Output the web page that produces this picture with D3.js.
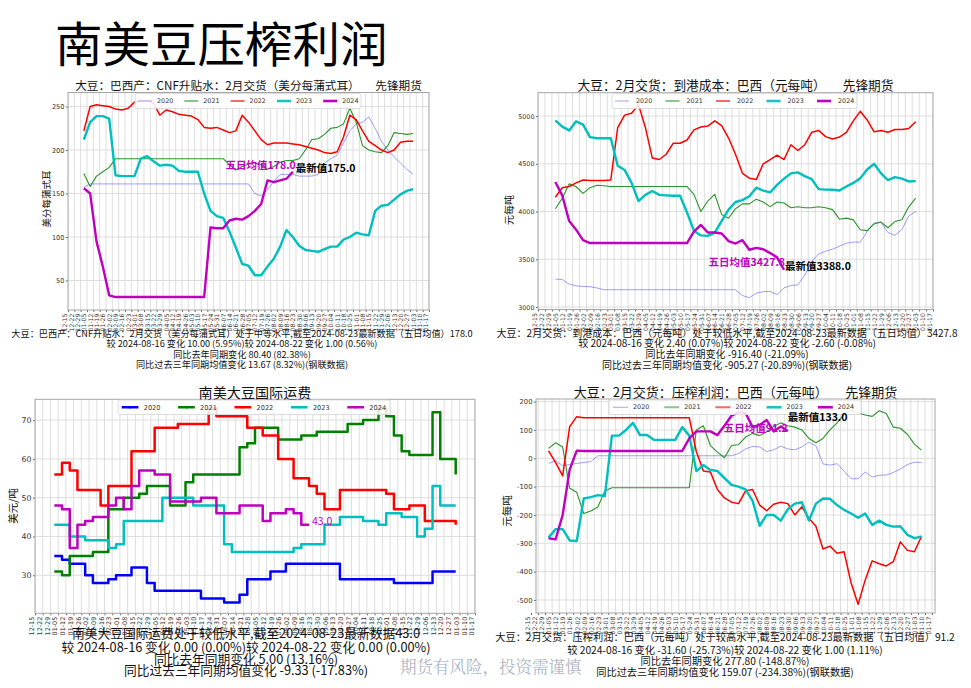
<!DOCTYPE html>
<html><head><meta charset="utf-8">
<script src="https://cdn.jsdelivr.net/npm/d3@7/dist/d3.min.js"></script>
<style>
body{margin:0;background:#fff;}
svg{display:block;font-family:"DejaVu Sans","Noto Sans CJK SC",sans-serif;}
.cjk{font-family:"Noto Sans CJK SC",sans-serif;}
</style></head><body>
<svg id="chart" width="971" height="688"></svg>
<script>
// ---------------- DATA ----------------
const weekLabels = ["12-15","12-22","12-29","01-05","01-12","01-19","01-26","02-02","02-09","02-16","02-23","03-01","03-08","03-15","03-22","03-29","04-05","04-12","04-19","04-26","05-03","05-10","05-17","05-24","05-31","06-07","06-14","06-21","06-28","07-05","07-12","07-19","07-26","08-02","08-09","08-16","08-23","08-30","09-06","09-13","09-20","09-27","10-04","10-11","10-18","10-25","11-01","11-08","11-15","11-22","11-29","12-06","12-13","12-20","12-27","01-03","01-10","01-17"];
const yearNames = ["2020","2021","2022","2023","2024"];
const FIRST_WEEK = 2.5; // first weekly observation sits between 12-29 and 01-05

// 1) CNF premium, Brazil, Feb delivery (US cents / bushel), weekly
const cnf2020 = [157,161,161,161,161,161,161,161,161,161,161,161,161,161,161,161,161,161,161,161,161,161,161,161,161,161,161,150,147,154,164,172,172,172,170,170,170,172,185,190,194,208,222,230,232,238,225,210,200,192,185,178,172];
const cnf2021 = [173,158,170,175,180,190,190,190,190,190,190,190,190,190,190,190,190,190,190,190,190,190,190,183,177,181,184,185,183,178,181,186,188,188,190,200,212,213,218,225,226,230,248,232,205,200,198,197,205,220,219,218,219];
const cnf2022 = [222,250,252,251,250,247,246,248,255,257,257,254,240,246,244,241,240,239,235,226,225,226,223,220,222,240,232,222,212,206,208,208,208,207,206,204,202,200,197,196,198,215,240,235,222,210,205,200,197,200,209,210,210];
const cnf2023 = [212,232,239,239,236,171,170,170,170,190,193,187,182,183,182,176,175,175,175,150,130,124,122,106,88,69,67,56,56,66,75,89,108,100,90,85,84,83,86,89,89,97,100,105,103,102,130,136,137,143,149,153,155];
const cnf2024 = [156,150,95,66,33,31,31,31,31,31,31,31,31,31,31,31,31,31,31,31,111,110,110,119,121,120,124,130,138,165,163,165,167,175];
const cnfTicks = [50,100,150,200,250];

// 2) Landed cost, Brazil, Feb delivery (yuan / t)
const cost2020 = [3293,3288,3240,3222,3215,3213,3200,3181,3181,3181,3181,3181,3181,3181,3181,3181,3181,3181,3181,3181,3181,3181,3181,3181,3181,3181,3181,3120,3098,3145,3160,3163,3130,3200,3225,3232,3335,3480,3555,3585,3605,3638,3668,3680,3680,3790,3880,3890,3780,3750,3810,3955,4000];
const cost2021 = [4030,4140,4290,4260,4190,4250,4275,4270,4262,4262,4262,4262,4262,4262,4262,4262,4262,4262,4262,4262,4180,4000,4110,4180,3970,3930,4030,4080,4080,4130,4100,4052,4100,4090,4040,4050,4040,4040,4050,4040,4020,3920,3931,3913,3810,3800,3870,3890,3830,3895,3915,4050,4140];
const cost2022 = [4150,4250,4262,4300,4330,4325,4325,4325,4330,4880,5010,5030,5120,4880,4560,4545,4600,4715,4715,4750,4855,4885,4895,4950,4900,4770,4600,4400,4350,4335,4500,4545,4590,4545,4700,4640,4700,4830,4850,4785,4760,4780,4830,4950,5050,4960,4835,4850,4830,4860,4860,4870,4941];
const cost2023 = [4955,4890,4850,4945,4910,4780,4768,4768,4768,4480,4436,4300,4110,4175,4215,4175,4170,4165,4165,3990,3800,3750,3745,3780,3900,4020,4100,4120,4160,4250,4220,4200,4280,4345,4400,4410,4370,4340,4235,4230,4228,4220,4262,4300,4350,4440,4500,4400,4330,4360,4345,4315,4320];
const cost2024 = [4310,4170,3900,3810,3700,3670,3670,3670,3670,3670,3670,3670,3670,3670,3670,3670,3670,3670,3670,3670,3790,3860,3780,3780,3770,3690,3665,3700,3600,3620,3605,3565,3520,3390];
const costTicks = [3000,3500,4000,4500,5000];

// 3) South America soybean ocean freight (USD / t)
const freight2020 = [35,34,33,33,30,28,28,29,30,30,32,32,28,26,26,26,26,26,26,24,24,24,23,23,25,29,29,29,31,31,33,33,33,33,33,33,33,29,29,29,29,29,29,29,28,28,28,28,28,31,31,31,31];
const freight2021 = [31,30,35,35,35,36,36,47,47,50,50,51,53,53,53,48,48,54,56,56,56,56,56,56,63,64,68,68,68,65,65,65,66,66,67,67,67,67,69,69,70,70,73,71,66,62,61,61,61,72,60,60,56];
const freight2022 = [56,59,57,52,52,52,48,53,53,53,62,62,62,68,68,68,69,69,69,69,73,71,71,71,71,68,68,66,66,60,60,55,55,53,51,47,47,52,52,52,52,52,52,51,47,47,48,48,44,44,44,44,43];
const freight2023 = [43,43,40,40,39,39,39,37,38,44,44,44,44,44,50,50,50,50,48,48,48,48,38,36,36,36,36,36,36,36,36,37,38,38,38,43,43,45,45,45,44,44,43,46,46,45,45,40,42,53,48,48,48];
const freight2024 = [48,47,37,43,44,45,45,48,50,47,53,57,57,56,56,49,49,49,49,50,50,46,46,46,48,48,48,44,46,46,47,46,43,43];
const freightTicks = [30,40,50,60,70];

// 4) Crush margin, Brazil, Feb delivery (yuan / t)
const margin2020 = [-18,-9,-26,-22,-18,-15,-12,9,9,9,9,9,9,9,9,9,9,9,9,9,9,9,9,9,9,9,9,17,33,42,40,24,30,43,33,30,40,57,44,-20,-24,-19,-45,-72,-72,-48,-66,-60,-59,-50,-38,-22,-14,-15];
const margin2021 = [35,55,40,-106,-120,-195,-186,-172,-115,-104,-104,-104,-104,-104,-104,-104,-104,-104,-104,-104,-104,100,115,45,22,2,45,48,75,88,80,94,112,125,115,110,100,70,55,70,100,125,155,170,160,153,148,168,158,110,106,85,50,29];
const margin2022 = [26,-15,-62,112,147,143,143,143,143,143,143,143,143,143,143,143,143,143,143,143,143,24,-45,-48,-110,-140,-155,-160,-115,-110,-165,-185,-162,-155,-160,-200,-171,-212,-240,-320,-310,-335,-330,-440,-515,-430,-362,-372,-380,-365,-295,-325,-330,-276];
const margin2023 = [-280,-250,-250,-290,-292,-142,-137,-130,-133,80,80,100,125,82,82,65,65,65,65,110,80,-45,-24,-41,-45,-70,-94,-100,-110,-150,-238,-200,-200,-220,-180,-160,-155,-220,-160,-142,-143,-165,-182,-195,-210,-195,-235,-220,-235,-241,-240,-270,-282,-276];
const margin2024 = [-282,-286,-200,-40,27,26,26,26,26,26,26,26,26,26,26,26,26,26,26,26,70,95,95,95,82,115,150,163,160,110,118,135,95,112,96];
const marginTicks = [-500,-400,-300,-200,-100,0,100,200];

// annotation values
const cnfAvg = 178.0, cnfLatest = 175.0;
const costAvg = 3427.8, costLatest = 3388.0;
const freightLatest = 43.0;
const marginAvg = 91.2, marginLatest = 133.0;

// texts
const mainTitle = "南美豆压榨利润";
const watermark = "期货有风险，投资需谨慎";
const cnfTitle = "大豆：巴西产：CNF升贴水：2月交货（美分每蒲式耳）      先锋期货";
const costTitle = "大豆：2月交货：到港成本：巴西（元每吨）      先锋期货";
const freightTitle = "南美大豆国际运费";
const marginTitle = "大豆：2月交货：压榨利润：巴西（元每吨）      先锋期货";
const cnfNotes = ["大豆：巴西产：CNF升贴水：2月交货（美分每蒲式耳）处于中等水平,截至2024-08-23最新数据（五日均值）178.0","较 2024-08-16 变化 10.00 (5.95%)较 2024-08-22 变化 1.00 (0.56%)","同比去年同期变化 80.40 (82.38%)","同比过去三年同期均值变化 13.67 (8.32%)(钢联数据)"];
const costNotes = ["大豆：2月交货：到港成本：巴西（元每吨）处于较低水平,截至2024-08-23最新数据（五日均值）3427.8","较 2024-08-16 变化 2.40 (0.07%)较 2024-08-22 变化 -2.60 (-0.08%)","同比去年同期变化 -916.40 (-21.09%)","同比过去三年同期均值变化 -905.27 (-20.89%)(钢联数据)"];
const freightNotes = ["南美大豆国际运费处于较低水平,截至2024-08-23最新数据43.0","较 2024-08-16 变化 0.00 (0.00%)较 2024-08-22 变化 0.00 (0.00%)","同比去年同期变化 5.00 (13.16%)","同比过去三年同期均值变化 -9.33 (-17.83%)"];
const marginNotes = ["大豆：2月交货：压榨利润：巴西（元每吨）处于较高水平,截至2024-08-23最新数据（五日均值）91.2","较 2024-08-16 变化 -31.60 (-25.73%)较 2024-08-22 变化 1.00 (1.11%)","同比去年同期变化 277.80 (-148.87%)","同比过去三年同期均值变化 159.07 (-234.38%)(钢联数据)"];

// ---------------- STYLES ----------------
const thinStyles = [
  {color:"#0000ff", width:0.9, opacity:0.42},
  {color:"#138a13", width:1.1, opacity:0.9},
  {color:"#ff0000", width:1.5, opacity:1},
  {color:"#00bfbf", width:2.4, opacity:1},
  {color:"#bf00bf", width:2.4, opacity:1}
];
const thinLegend = [
  {color:"#a4a4f2", width:1},
  {color:"#86c986", width:2},
  {color:"#f26a6a", width:2},
  {color:"#1cc2c2", width:2.6},
  {color:"#c000c0", width:2.6}
];
const boldStyles = [
  {color:"#0000ff", width:2.5, opacity:1},
  {color:"#008000", width:2.5, opacity:1},
  {color:"#ff0000", width:2.5, opacity:1},
  {color:"#00bfbf", width:2.5, opacity:1},
  {color:"#bf00bf", width:2.5, opacity:1}
];

// ---------------- DRAW ----------------
const svg = d3.select("#chart");
const defs = svg.append("defs");
svg.append("rect").attr("width",971).attr("height",688).attr("fill","#fff");

svg.append("text").attr("class","cjk").attr("x",55).attr("y",62).attr("font-size",47.5).attr("fill","#000")
  .text(mainTitle);

// set a common font size for a group of texts so that the first one spans the given width
function fitGroup(sel, base, width){
  const w = sel[0].node().getComputedTextLength();
  const fs = w > 0 ? base*width/w : base;
  sel.forEach(s=>s.attr("font-size",fs));
}

function drawPanel(p){
  const nT = weekLabels.length;
  const x = d3.scaleLinear().domain([0, nT-1]).range([p.tick0, p.tick1]);
  const y = d3.scaleLinear().domain(p.yDomain).range([p.bottom, p.top]);
  const g = svg.append("g");
  const cid = "clip-"+p.id;
  defs.append("clipPath").attr("id",cid).append("rect")
    .attr("x",p.left).attr("y",p.top).attr("width",p.right-p.left).attr("height",p.bottom-p.top);

  const grid = g.append("g").attr("clip-path",`url(#${cid})`);
  grid.selectAll("line.v").data(d3.range(nT)).join("line").attr("class","v")
    .attr("x1",d=>x(d)).attr("x2",d=>x(d)).attr("y1",p.top).attr("y2",p.bottom)
    .attr("stroke","#dadada").attr("stroke-width",0.9);
  grid.selectAll("line.h").data(p.yTicks).join("line").attr("class","h")
    .attr("x1",p.left).attr("x2",p.right).attr("y1",d=>y(d)).attr("y2",d=>y(d))
    .attr("stroke","#dadada").attr("stroke-width",0.9);

  // x axis
  const xa = g.append("g").attr("transform",`translate(0,${p.bottom})`)
    .call(d3.axisBottom(x).tickValues(d3.range(nT)).tickFormat(i=>weekLabels[i]).tickSize(2));
  xa.attr("font-family",null).attr("font-size",null);
  xa.select(".domain").remove();
  xa.selectAll(".tick line").attr("stroke","#666");
  xa.selectAll(".tick text").attr("transform","rotate(-90)").attr("text-anchor","end")
    .attr("x",-3.5).attr("y",0).attr("dy","-0.2em").attr("font-size",p.xFont).attr("fill","#333");

  // y axis
  const ya = g.append("g").attr("transform",`translate(${p.left},0)`)
    .call(d3.axisLeft(y).tickValues(p.yTicks).tickFormat(d=>String(d)).tickSize(2).tickPadding(1.5));
  ya.attr("font-family",null).attr("font-size",null);
  ya.select(".domain").remove();
  ya.selectAll(".tick line").attr("stroke","#666");
  ya.selectAll(".tick text").attr("font-size",p.yFont).attr("fill","#333");

  // series
  const line = d3.line().x((d,k)=>x(FIRST_WEEK+k)).y(d=>y(d)).curve(p.curve);
  const sg = g.append("g").attr("clip-path",`url(#${cid})`);
  p.series.forEach((s,j)=>{
    const st = p.styles[j];
    sg.append("path").attr("d",line(s)).attr("fill","none")
      .attr("stroke",st.color).attr("stroke-width",st.width).attr("stroke-opacity",st.opacity)
      .attr("stroke-linejoin","round").attr("stroke-linecap","butt");
  });

  // frame
  g.append("rect").attr("x",p.left).attr("y",p.top).attr("width",p.right-p.left).attr("height",p.bottom-p.top)
    .attr("fill","none").attr("stroke","#a6a6a6").attr("stroke-width",1);

  // title
  const tt = g.append("text").attr("class","cjk").attr("x",(p.left+p.right)/2).attr("y",p.titleY).attr("text-anchor","middle")
    .attr("font-size",12).attr("fill","#111").style("white-space","pre").text(p.title);
  fitGroup([tt], 12, p.titleW);

  // y label
  g.append("text").attr("class","cjk").attr("transform",`translate(${p.ylabX},${p.ylabY}) rotate(-90)`)
    .attr("text-anchor","middle").attr("dy","0.35em").attr("font-size",p.ylabFont).attr("fill","#111").text(p.ylabel);

  // legend
  const L = p.legend;
  const lg = g.append("g");
  lg.append("rect").attr("x",L.x).attr("y",L.y).attr("width",L.w).attr("height",L.h).attr("rx",2)
    .attr("fill","#fff").attr("fill-opacity",0.85).attr("stroke","#d6d6d6").attr("stroke-width",0.8);
  yearNames.forEach((name,j)=>{
    const hx = L.x + L.pad + j*L.step;
    const cy = L.y + L.h/2;
    const st = L.styles[j];
    lg.append("line").attr("x1",hx).attr("x2",hx+L.len).attr("y1",cy).attr("y2",cy)
      .attr("stroke",st.color).attr("stroke-width",st.width);
    if (L.marker) lg.append("circle").attr("cx",hx+L.len/2).attr("cy",cy).attr("r",1.3).attr("fill",st.color);
    lg.append("text").attr("x",hx+L.textOff).attr("y",cy).attr("dy","0.35em")
      .attr("font-size",L.font).attr("fill","#333").text(name);
  });

  // annotations
  const lastIdx = p.series[4].length - 1;
  const lx = x(FIRST_WEEK+lastIdx);
  if (p.avg !== undefined){
    g.append("text").attr("class","cjk").attr("x",lx+p.annShift).attr("y",y(p.avg)).attr("text-anchor","end")
      .attr("font-size",p.annFont).attr("font-weight","bold").attr("fill","#bf00bf").text("五日均值"+p.avg.toFixed(1));
  }
  if (p.latest !== undefined){
    g.append("text").attr("class","cjk").attr("x",lx+p.annShift).attr("y",y(p.latest)).attr("text-anchor","start")
      .attr("font-size",p.annFont).attr("font-weight",p.latestWeight).attr("fill",p.latestColor)
      .text(p.latestPrefix+p.latest.toFixed(1));
  }

  // notes
  const nts = p.notes.map((t,j)=> g.append("text").attr("class","cjk").attr("x",p.noteX).attr("y",p.noteY[j])
      .attr("text-anchor","middle").attr("font-size",10).attr("fill","#111").text(t));
  fitGroup(nts, 10, p.noteW);
}

drawPanel({
  id:"cnf", left:68, right:429, top:92.5, bottom:310, tick0:68, tick1:429,
  yDomain:[16.1,266.1], yTicks:cnfTicks, xFont:6.2, yFont:6.6,
  series:[cnf2020,cnf2021,cnf2022,cnf2023,cnf2024], styles:thinStyles, curve:d3.curveLinear,
  title:cnfTitle, titleY:89.5, titleW:347,
  ylabel:"美分每蒲式耳", ylabX:47, ylabY:199, ylabFont:9.5,
  legend:{x:135,y:93.5,w:226,h:15,pad:3,step:46.3,len:14,textOff:19,font:6.4,styles:thinLegend},
  avg:cnfAvg, latest:cnfLatest, annShift:3, annFont:10.5, latestWeight:"bold", latestColor:"#000", latestPrefix:"最新值",
  notes:cnfNotes, noteX:242, noteY:[337,347,357.5,368], noteW:462
});

drawPanel({
  id:"cost", left:538, right:933, top:92.7, bottom:309.5, tick0:538, tick1:933,
  yDomain:[2974,5245], yTicks:costTicks, xFont:6.2, yFont:6.4,
  series:[cost2020,cost2021,cost2022,cost2023,cost2024], styles:thinStyles, curve:d3.curveLinear,
  title:costTitle, titleY:89.5, titleW:316,
  ylabel:"元每吨", ylabX:509, ylabY:210, ylabFont:10,
  legend:{x:612,y:93.5,w:245,h:15,pad:3,step:50.5,len:14,textOff:21,font:6.4,styles:thinLegend},
  avg:costAvg, latest:costLatest, annShift:1, annFont:10.5, latestWeight:"bold", latestColor:"#000", latestPrefix:"最新值",
  notes:costNotes, noteX:727, noteY:[337,347,357.5,368.5], noteW:462
});

drawPanel({
  id:"freight", left:35, right:475, top:399.3, bottom:613.3, tick0:35, tick1:475,
  yDomain:[20.2,75.36], yTicks:freightTicks, xFont:6.4, yFont:7.8,
  series:[freight2020,freight2021,freight2022,freight2023,freight2024], styles:boldStyles, curve:d3.curveStepAfter,
  title:freightTitle, titleY:397.5, titleW:113,
  ylabel:"美元/吨", ylabX:13, ylabY:506, ylabFont:10.5,
  legend:{x:118,y:400,w:272,h:14.5,pad:3.7,step:56.4,len:16.7,textOff:22,font:6.6,styles:boldStyles,marker:true},
  latest:freightLatest, annShift:3, annFont:10.5, latestWeight:"normal", latestColor:"#bf00bf", latestPrefix:"",
  notes:freightNotes, noteX:246, noteY:[638,651.5,663.5,675], noteW:348
});

drawPanel({
  id:"margin", left:536, right:935, top:399, bottom:613, tick0:531, tick1:932,
  yDomain:[-546,209.3], yTicks:marginTicks, xFont:6.2, yFont:6.8,
  series:[margin2020,margin2021,margin2022,margin2023,margin2024], styles:thinStyles, curve:d3.curveLinear,
  title:marginTitle, titleY:397, titleW:324,
  ylabel:"元每吨", ylabX:507, ylabY:511, ylabFont:10.5,
  legend:{x:609,y:400,w:252,h:14.5,pad:4,step:51.2,len:15,textOff:20,font:6.4,styles:thinLegend},
  avg:marginAvg, latest:marginLatest, annShift:0, annFont:10.5, latestWeight:"bold", latestColor:"#000", latestPrefix:"最新值",
  notes:marginNotes, noteX:725, noteY:[641,654,665,676], noteW:460
});

svg.append("text").attr("x",400).attr("y",673).attr("font-size",16.5).attr("fill","#a3abbd")
  .attr("font-family","'Noto Serif CJK SC','Noto Sans CJK SC',serif").attr("font-weight",300).text(watermark);
</script>
</body></html>
